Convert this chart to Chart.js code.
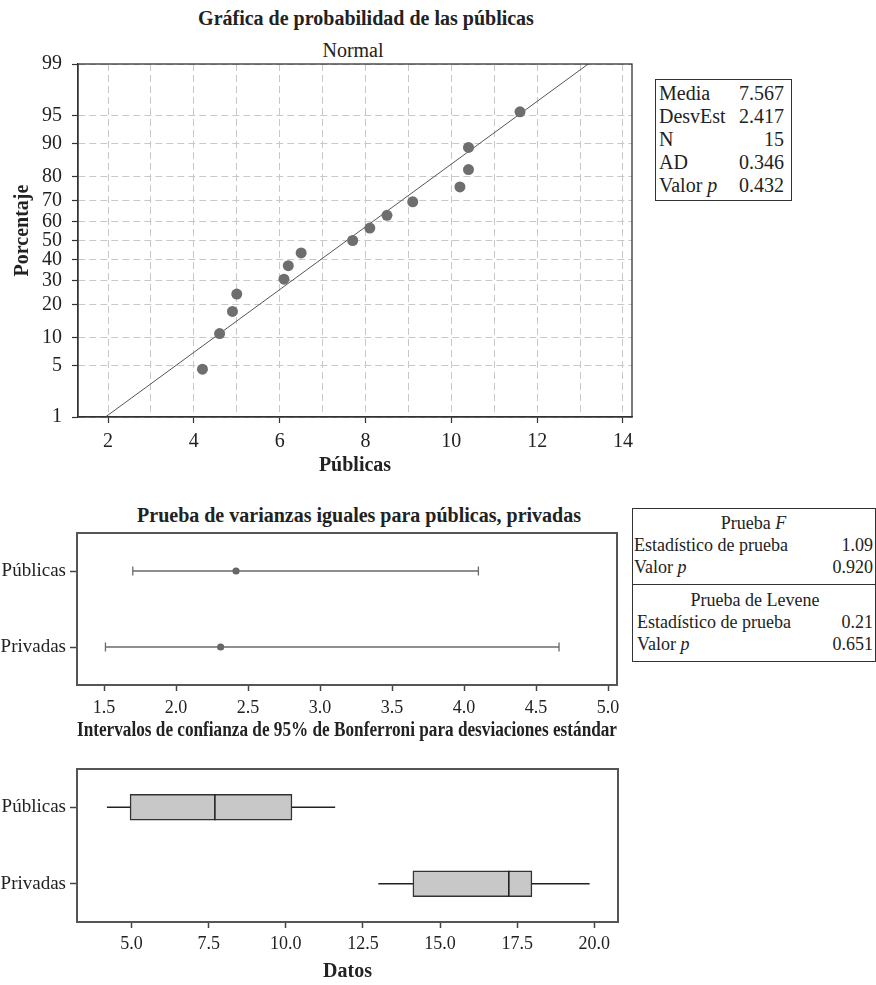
<!DOCTYPE html>
<html lang="es">
<head>
<meta charset="utf-8">
<title>Gráfica de probabilidad de las públicas</title>
<script src="https://cdn.jsdelivr.net/npm/chart.js@4.4.1/dist/chart.umd.min.js"></script>
<style>
  body { margin: 0; background: #fff; }
  #page { position: relative; width: 876px; height: 985px; overflow: hidden; font-family: 'Liberation Serif', 'Times New Roman', serif; color: #222; }
  canvas { position: absolute; left: 0; }
  .title { position: absolute; text-align: center; font-size: 20px; line-height: 24px; white-space: nowrap; }
  .bold { font-weight: bold; }
  .box { position: absolute; box-sizing: border-box; border: 1.5px solid #333; background: #fff; }
  .row { display: flex; justify-content: space-between; white-space: nowrap; }
  #stats1 { left: 655px; top: 79px; width: 137px; height: 122px; padding: 2px 7px 0 3px; font-size: 20px; }
  #stats1 .row { height: 23px; line-height: 23px; }
  #stats2 { left: 632px; top: 508px; width: 244px; height: 154px; font-size: 18px; }
  #stats2 .sec { box-sizing: border-box; }
  #stats2 .secA { height: 75.5px; border-bottom: 1.5px solid #333; padding: 3px 2px 0 1px; }
  #stats2 .secB { padding: 4px 2px 0 4px; }
  #stats2 .row { height: 22px; line-height: 22px; }
  #stats2 .head { text-align: center; height: 22px; line-height: 22px; }
</style>
</head>
<body>
<div id="page">
  <div class="title bold" style="left:166px; top:6px; width:400px;">Gráfica de probabilidad de las públicas</div>
  <div class="title" style="left:253px; top:38px; width:200px;">Normal</div>
  <div class="title bold" style="left:59px; top:503px; width:600px;">Prueba de varianzas iguales para públicas, privadas</div>

  <canvas id="probChart" width="650" height="480" style="top:0;"></canvas>
  <canvas id="varChart" width="640" height="250" style="top:495px;"></canvas>
  <canvas id="boxChart" width="640" height="240" style="top:745px;"></canvas>

  <div id="stats1" class="box">
    <div class="row"><span>Media</span><span>7.567</span></div>
    <div class="row"><span>DesvEst</span><span>2.417</span></div>
    <div class="row"><span>N</span><span>15</span></div>
    <div class="row"><span>AD</span><span>0.346</span></div>
    <div class="row"><span>Valor <i>p</i></span><span>0.432</span></div>
  </div>

  <div id="stats2" class="box">
    <div class="sec secA">
      <div class="head">Prueba <i>F</i></div>
      <div class="row"><span>Estadístico de prueba</span><span>1.09</span></div>
      <div class="row"><span>Valor <i>p</i></span><span>0.920</span></div>
    </div>
    <div class="sec secB">
      <div class="head">Prueba de Levene</div>
      <div class="row"><span>Estadístico de prueba</span><span>0.21</span></div>
      <div class="row"><span>Valor <i>p</i></span><span>0.651</span></div>
    </div>
  </div>
</div>

<script>
// --- probability plot (públicas) ---
const pubX = [4.2, 4.6, 4.9, 5.0, 6.1, 6.2, 6.5, 7.7, 8.1, 8.5, 9.1, 10.2, 10.4, 10.4, 11.6];
const pubPct = [4.5, 11.0, 17.5, 24.0, 30.5, 37.0, 43.5, 50.0, 56.5, 63.0, 69.5, 76.0, 82.5, 89.0, 95.5];
const fitX = [1.94, 13.19];
const fitPct = [1, 99];
const probYTicks = [1, 5, 10, 20, 30, 40, 50, 60, 70, 80, 90, 95, 99];
const probXGrid = [2, 3, 4, 5, 6, 7, 8, 9, 10, 11, 12, 13, 14];

// --- equal variances test ---
const varCats = ['Públicas', 'Privadas'];
const sigmaLow = [1.70, 1.51];
const sigmaEst = [2.417, 2.31];
const sigmaHigh = [4.10, 4.66];
const varXTicks = [1.5, 2.0, 2.5, 3.0, 3.5, 4.0, 4.5, 5.0];

// --- boxplots ---
const boxCats = ['Públicas', 'Privadas'];
const boxMin = [4.2, 13.0];
const boxQ1 = [4.95, 14.12];
const boxMed = [7.7, 17.23];
const boxQ3 = [10.2, 17.98];
const boxMax = [11.6, 19.85];
const boxXTicks = [5.0, 7.5, 10.0, 12.5, 15.0, 17.5, 20.0];

const SERIF = "'Liberation Serif', 'Times New Roman', serif";
Chart.defaults.font.family = SERIF;
Chart.defaults.color = '#222';

// inverse normal cdf (Acklam)
function probit(p) {
  const a = [-39.69683028665376, 220.9460984245205, -275.9285104469687, 138.3577518672690, -30.66479806614716, 2.506628277459239];
  const b = [-54.47609879822406, 161.5858368580409, -155.6989798598866, 66.80131188771972, -13.28068155288572];
  const c = [-0.007784894002430293, -0.3223964580411365, -2.400758277161838, -2.549732539343734, 4.374664141464968, 2.938163982698783];
  const d = [0.007784695709041462, 0.3224671290700398, 2.445134137142996, 3.754408661907416];
  const pl = 0.02425;
  let q, r;
  if (p < pl) {
    q = Math.sqrt(-2 * Math.log(p));
    return (((((c[0]*q+c[1])*q+c[2])*q+c[3])*q+c[4])*q+c[5]) / ((((d[0]*q+d[1])*q+d[2])*q+d[3])*q+1);
  }
  if (p > 1 - pl) {
    q = Math.sqrt(-2 * Math.log(1 - p));
    return -(((((c[0]*q+c[1])*q+c[2])*q+c[3])*q+c[4])*q+c[5]) / ((((d[0]*q+d[1])*q+d[2])*q+d[3])*q+1);
  }
  q = p - 0.5;
  r = q * q;
  return (((((a[0]*r+a[1])*r+a[2])*r+a[3])*r+a[4])*r+a[5])*q / (((((b[0]*r+b[1])*r+b[2])*r+b[3])*r+b[4])*r+1);
}

// box round the plot area
const framePlugin = {
  id: 'frame',
  afterDatasetsDraw(chart, args, opts) {
    const {left, top, right, bottom} = chart.chartArea;
    const ctx = chart.ctx;
    ctx.save();
    ctx.strokeStyle = opts.color || '#333';
    ctx.lineWidth = opts.width || 1;
    ctx.strokeRect(left, top, right - left, bottom - top);
    ctx.restore();
  }
};

const baseOptions = {
  responsive: false,
  animation: false,
  events: [],
  plugins: {legend: {display: false}, tooltip: {enabled: false}}
};

// chart 1
new Chart(document.getElementById('probChart'), {
  type: 'scatter',
  data: {
    datasets: [{
      data: pubX.map((x, i) => ({x: x, y: probit(pubPct[i] / 100)})),
      pointRadius: 5.5,
      pointBackgroundColor: '#6e6e6e',
      pointBorderWidth: 0
    }, {
      data: fitX.map((x, i) => ({x: x, y: probit(fitPct[i] / 100)})),
      showLine: true,
      borderColor: '#555',
      borderWidth: 1,
      pointRadius: 0
    }]
  },
  options: {
    ...baseOptions,
    layout: {padding: {top: 64, right: 18, bottom: 0, left: 0}},
    plugins: {...baseOptions.plugins, frame: {color: '#333', width: 1.3}},
    scales: {
      x: {
        type: 'linear', min: 1.3, max: 14.21,
        afterBuildTicks: (scale) => { scale.ticks = probXGrid.map(v => ({value: v})); },
        afterFit: (scale) => { scale.height = 63; },
        ticks: {
          autoSkip: false, maxRotation: 0, padding: 7,
          font: {size: 20},
          callback: (v) => (v % 2 === 0 ? v : '')
        },
        grid: {
          color: '#c8c8c8', lineWidth: 1, tickLength: 6, tickWidth: 1.2,
          tickColor: (ctx) => (ctx.tick && ctx.tick.value % 2 === 0 ? '#333' : 'rgba(0,0,0,0)')
        },
        border: {color: '#333', width: 1.3, dash: [7, 4]},
        title: {display: true, text: 'Públicas', font: {size: 20, weight: 'bold'}, padding: {top: 0, bottom: 2}}
      },
      y: {
        type: 'linear',
        min: probit(probYTicks[0] / 100),
        max: probit(probYTicks[probYTicks.length - 1] / 100),
        afterBuildTicks: (scale) => { scale.ticks = probYTicks.map(p => ({value: probit(p / 100)})); },
        afterFit: (scale) => { scale.width = 78; },
        ticks: {
          autoSkip: false, padding: 10,
          font: {size: 20},
          callback: (v, i) => probYTicks[i]
        },
        grid: {color: '#c8c8c8', lineWidth: 1, tickLength: 6, tickWidth: 1.2, tickColor: '#333'},
        border: {color: '#333', width: 1.3, dash: [7, 4]},
        title: {display: true, text: '    Porcentaje', font: {size: 20, weight: 'bold'}, padding: {top: 11, bottom: 0}}
      }
    }
  },
  plugins: [framePlugin]
});

// chart 2
const intervalSets = varCats.map((c, i) => ({
  data: [{x: sigmaLow[i], y: c}, {x: sigmaHigh[i], y: c}],
  showLine: true,
  borderColor: '#6a6a6a',
  borderWidth: 1.3,
  pointStyle: 'line',
  pointRotation: 90,
  pointRadius: 4.5,
  pointBorderColor: '#6a6a6a',
  pointBorderWidth: 1.3
}));

new Chart(document.getElementById('varChart'), {
  type: 'scatter',
  data: {
    datasets: [...intervalSets, {
      data: sigmaEst.map((s, i) => ({x: s, y: varCats[i]})),
      pointRadius: 3.6,
      pointBackgroundColor: '#666',
      pointBorderWidth: 0
    }]
  },
  options: {
    ...baseOptions,
    layout: {padding: {top: 38, right: 23, bottom: 0, left: 0}},
    plugins: {...baseOptions.plugins, frame: {color: '#555', width: 2}},
    scales: {
      x: {
        type: 'linear', min: 1.3125, max: 5.0625,
        afterBuildTicks: (scale) => { scale.ticks = varXTicks.map(v => ({value: v})); },
        afterFit: (scale) => { scale.height = 60; },
        ticks: {autoSkip: false, maxRotation: 0, padding: 6, font: {size: 18}, callback: (v) => v.toFixed(1)},
        grid: {drawOnChartArea: false, tickLength: 6, tickWidth: 1.5, tickColor: '#444'},
        border: {color: '#555', width: 2},
        title: {
          display: true,
          text: 'Intervalos de confianza de 95% de Bonferroni para desviaciones estándar',
          font: {size: 20, weight: 'bold'}, padding: {top: 0, bottom: 2}
        }
      },
      y: {
        type: 'category', labels: varCats, offset: true,
        afterFit: (scale) => { scale.width = 77; },
        ticks: {padding: 4, font: {size: 19}},
        grid: {offset: false, drawOnChartArea: false, tickLength: 7, tickWidth: 1.5, tickColor: '#444'},
        border: {color: '#555', width: 2}
      }
    }
  },
  plugins: [framePlugin]
});

// chart 3
const whiskerSets = boxCats.map((c, i) => ({
  type: 'line',
  data: [{x: boxMin[i], y: c}, {x: boxMax[i], y: c}],
  borderColor: '#222',
  borderWidth: 1.5,
  pointRadius: 0,
  order: 3
}));

new Chart(document.getElementById('boxChart'), {
  type: 'bar',
  data: {
    labels: boxCats,
    datasets: [{
      data: boxQ1.map((q, i) => [q, boxQ3[i]]),
      backgroundColor: '#c8c8c8',
      borderColor: '#333',
      borderWidth: 1.5,
      borderSkipped: false,
      barThickness: 26,
      order: 2
    }, ...whiskerSets, {
      type: 'line',
      data: boxMed.map((m, i) => ({x: m, y: boxCats[i]})),
      showLine: false,
      pointStyle: 'line',
      pointRotation: 90,
      pointRadius: 13,
      pointBorderColor: '#222',
      pointBorderWidth: 1.6,
      order: 1
    }]
  },
  options: {
    ...baseOptions,
    indexAxis: 'y',
    layout: {padding: {top: 24, right: 22, bottom: 0, left: 0}},
    plugins: {...baseOptions.plugins, frame: {color: '#555', width: 2}},
    scales: {
      x: {
        type: 'linear', min: 3.23, max: 20.77,
        afterBuildTicks: (scale) => { scale.ticks = boxXTicks.map(v => ({value: v})); },
        afterFit: (scale) => { scale.height = 63; },
        ticks: {autoSkip: false, maxRotation: 0, padding: 5, font: {size: 18}, callback: (v) => v.toFixed(1)},
        grid: {drawOnChartArea: false, tickLength: 6, tickWidth: 1.5, tickColor: '#444'},
        border: {color: '#555', width: 2},
        title: {display: true, text: 'Datos', font: {size: 20, weight: 'bold'}, padding: {top: 0, bottom: 1}}
      },
      y: {
        type: 'category', offset: true,
        afterFit: (scale) => { scale.width = 77; },
        ticks: {padding: 4, font: {size: 19}},
        grid: {offset: false, drawOnChartArea: false, tickLength: 7, tickWidth: 1.5, tickColor: '#444'},
        border: {color: '#555', width: 2}
      }
    }
  },
  plugins: [framePlugin]
});
</script>
</body>
</html>
